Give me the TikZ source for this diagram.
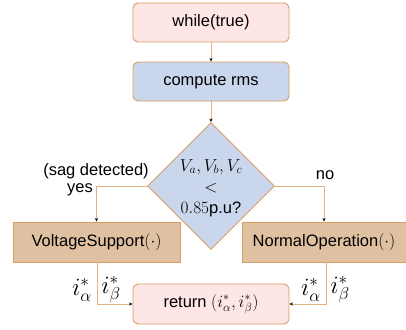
\documentclass[tikz,border=0pt]{standalone}
\usepackage{fontspec}
\setmainfont{Liberation Sans}
\usetikzlibrary{shapes.geometric,arrows.meta}
\definecolor{bordc}{HTML}{D59E64}
\definecolor{linec}{HTML}{DDB285}
\definecolor{pinkf}{HTML}{FFE6E6}
\definecolor{bluef}{HTML}{CAD6EC}
\definecolor{tanf}{HTML}{DFC1A1}
\begin{document}
\begin{tikzpicture}[x=1pt,y=-1pt,
  every node/.style={font=\fontsize{16.5}{20}\selectfont},
  rbox/.style={draw=bordc,line width=0.9pt,rounded corners=5pt,minimum width=156pt,minimum height=39pt,inner sep=0pt},
  sbox/.style={draw=bordc,line width=0.9pt,minimum height=40pt,inner sep=0pt},
  conn/.style={draw=linec,line width=0.9pt,-{Stealth[length=3.5pt,width=3pt,color=black]}},
  lab/.style={font=\fontsize{23}{26}\selectfont,inner sep=0pt}]
\useasboundingbox (0,0) rectangle (406,329);
\node[rbox,fill=pinkf] (while) at (211,22.5) {while(true)};
\node[rbox,fill=bluef] (rms) at (211,81.5) {compute rms};
\node[diamond,draw=bordc,line width=0.9pt,fill=bluef,minimum width=127pt,minimum height=127pt,inner sep=0pt,aspect=1] (dec) at (211,186) {};
\node[align=center,inner sep=0pt] (dectxt) at (211,188) {$V_a, V_b, V_c$\\[1pt]$<$\\[1pt]$0.85$p.u?};
\node[sbox,fill=tanf,minimum width=167pt] (vs) at (96.5,242) {VoltageSupport$(\cdot)$};
\node[sbox,fill=tanf,minimum width=164pt] (no) at (324,242) {NormalOperation$(\cdot)$};
\node[rbox,fill=pinkf,minimum height=40pt] (ret) at (211,304) {return $(i^*_\alpha, i^*_\beta)$};
\draw[conn] (while) -- (rms);
\draw[conn] (rms) -- (dec);
\draw[conn] (dec.west) -| (vs.north);
\draw[conn] (dec.east) -| (no.north);
\coordinate (vsb) at (97,262);
\coordinate (nob) at (326,262);
\draw[conn] (vsb) |- (ret.west);
\draw[conn] (nob) |- (ret.east);
\node[align=center,inner sep=0pt] (sag) at (96,171) {(sag detected)};
\node[inner sep=0pt] (yes) at (80,190) {yes};
\node[inner sep=0pt] (nolab) at (325,175) {no};
\node[lab] (ia1) at (82,290) {$i^*_\alpha$};
\node[lab] (ib1) at (111,290) {$i^*_\beta$};
\node[lab] (ia2) at (311,290) {$i^*_\alpha$};
\node[lab] (ib2) at (340,290) {$i^*_\beta$};
\end{tikzpicture}
\end{document}
